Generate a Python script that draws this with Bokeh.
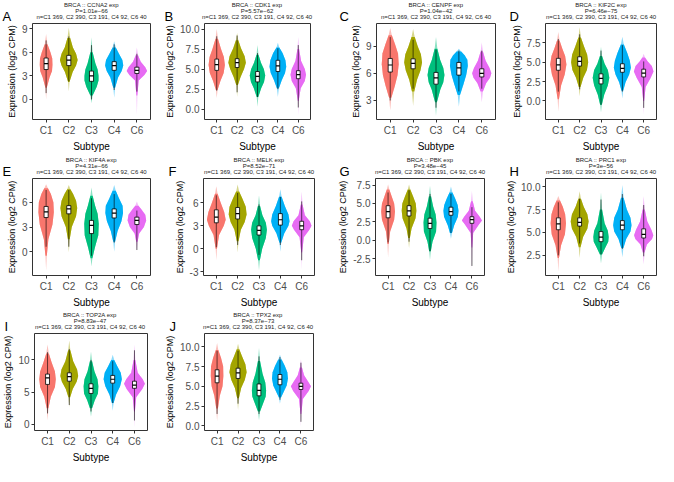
from bokeh.plotting import figure
from bokeh.layouts import row, column
from bokeh.models import Label, FixedTicker
from bokeh.embed import file_html
from bokeh.resources import INLINE

subtypes = ["C1", "C2", "C3", "C4", "C6"]
colors = ["#F8766D", "#A3A500", "#00BF7D", "#00B0F6", "#E76BF3"]
genes = ["CCNA2", "CDK1", "CENPF", "KIF2C", "KIF4A", "MELK", "PBK", "PRC1", "TOP2A", "TPX2"]
letters = ["A", "B", "C", "D", "E", "F", "G", "H", "I", "J"]
pvals = ["1.01e−66", "5.57e−62", "1.04e−42", "6.46e−75", "4.31e−66",
         "8.52e−71", "3.48e−45", "3e−56", "8.83e−47", "8.37e−73"]
n_text = "n=C1 369, C2 390, C3 191, C4 92, C6 40"

# ---- per panel data: violin knots (y, half width), box (q1, median, q3), whisker line ----
CCNA2_vy = [[0.0, 1.5, 2.8, 3.6, 4.4, 5.2, 6.0, 7.0, 8.3],
            [1.0, 2.2, 3.5, 4.3, 5.0, 5.8, 6.6, 7.8, 9.1],
            [-0.5, 0.5, 1.6, 2.4, 3.0, 3.8, 4.6, 6.0, 7.9],
            [0.2, 1.5, 2.8, 3.6, 4.3, 5.0, 5.8, 6.6, 7.4],
            [-2.0, 0.5, 2.4, 3.1, 3.6, 4.1, 4.8, 5.6, 6.6]]
CCNA2_vw = [[0, .03, .15, .26, .28, .27, .19, .06, 0],
            [0, .03, .17, .32, .39, .32, .18, .06, 0],
            [0, .05, .23, .31, .31, .27, .17, .05, 0],
            [0, .04, .17, .33, .40, .36, .21, .07, 0],
            [0, .02, .08, .33, .45, .37, .17, .05, 0]]
CCNA2_box = [[3.8, 4.55, 5.26], [4.3, 5.0, 5.6], [2.3, 3.0, 3.6], [3.7, 4.3, 4.8], [3.3, 3.7, 4.1]]
CCNA2_line = [[0.8, 7.5], [2.3, 8.0], [0.0, 6.9], [1.2, 7.0], [1.0, 5.8]]

CDK1_vy = [[1.4, 2.4, 3.5, 4.5, 5.5, 6.5, 7.5, 8.8, 10.0],
           [1.5, 3.0, 4.0, 5.0, 5.8, 6.6, 7.6, 8.6, 9.5],
           [0.3, 1.5, 2.6, 3.4, 4.2, 5.0, 5.8, 6.8, 8.0],
           [1.5, 2.6, 3.6, 4.5, 5.3, 6.1, 7.0, 7.7, 8.3],
           [-0.8, 1.0, 2.6, 3.5, 4.3, 5.0, 6.0, 7.5, 9.0]]
CDK1_vw = [[0, .04, .18, .34, .40, .35, .21, .06, 0],
           [0, .04, .17, .34, .43, .37, .19, .06, 0],
           [0, .04, .18, .32, .38, .31, .17, .05, 0],
           [0, .05, .19, .35, .41, .37, .23, .07, 0],
           [0, .02, .12, .32, .38, .32, .14, .04, 0]]
CDK1_box = [[4.84, 5.56, 6.25], [5.2, 5.8, 6.3], [3.4, 4.1, 4.7], [4.7, 5.4, 6.1], [3.8, 4.3, 4.8]]
CDK1_line = [[2.3, 9.1], [2.1, 9.2], [1.5, 7.0], [2.5, 7.6], [0.2, 8.0]]

CENPF_vy = [[1.9, 3.3, 4.6, 5.8, 7.0, 8.2, 9.2, 10.2, 11.0],
            [2.4, 4.0, 5.3, 6.3, 7.2, 8.1, 9.0, 10.0, 10.9],
            [1.3, 2.8, 4.2, 5.0, 5.8, 6.6, 7.5, 8.7, 10.0],
            [2.3, 3.6, 4.8, 5.8, 6.8, 7.5, 8.0, 8.4, 8.7],
            [2.8, 4.0, 4.9, 5.5, 6.0, 6.6, 7.4, 8.4, 9.4]]
CENPF_vw = [[0, .05, .20, .32, .37, .34, .21, .07, 0],
            [0, .05, .17, .32, .39, .34, .20, .07, 0],
            [0, .04, .19, .32, .37, .32, .18, .06, 0],
            [0, .05, .20, .32, .39, .37, .25, .10, 0],
            [0, .05, .19, .36, .42, .34, .17, .05, 0]]
CENPF_box = [[6.14, 6.92, 7.64], [6.5, 7.1, 7.6], [4.8, 5.5, 6.1], [5.8, 6.6, 7.2], [5.6, 6.0, 6.5]]
CENPF_line = [[3.0, 10.0], [4.3, 9.7], [2.2, 8.6], [4.0, 8.5], [4.3, 8.5]]

KIF2C_vy = [[-1.4, 0.2, 2.0, 3.4, 4.7, 5.8, 6.8, 7.8, 8.9],
            [0.6, 1.8, 3.0, 4.0, 5.0, 6.0, 7.0, 8.2, 9.5],
            [-1.5, -0.5, 0.8, 2.0, 3.0, 4.0, 4.8, 5.8, 7.0],
            [0.3, 1.3, 2.4, 3.4, 4.3, 5.2, 6.2, 7.3, 8.3],
            [-1.8, 0.0, 1.8, 3.0, 3.8, 4.5, 5.1, 5.6, 6.1]]
KIF2C_vw = [[0, .03, .13, .30, .38, .32, .18, .06, 0],
            [0, .04, .17, .34, .40, .35, .21, .06, 0],
            [0, .04, .15, .32, .39, .32, .17, .05, 0],
            [0, .04, .15, .32, .40, .35, .23, .07, 0],
            [0, .02, .09, .33, .46, .38, .19, .06, 0]]
KIF2C_box = [[3.96, 4.66, 5.5], [4.5, 5.1, 5.7], [2.2, 2.9, 3.5], [3.7, 4.2, 4.8], [3.1, 3.6, 4.1]]
KIF2C_line = [[1.2, 8.0], [1.5, 8.6], [-0.5, 6.5], [1.2, 7.2], [-0.9, 5.1]]

KIF4A_vy = [[-2.3, -0.5, 1.5, 3.3, 4.8, 6.0, 7.0, 7.7, 8.2],
            [-0.1, 1.5, 3.0, 4.3, 5.3, 6.2, 7.0, 7.6, 8.1],
            [-1.8, -0.8, 0.5, 2.0, 3.4, 4.6, 5.6, 6.8, 7.8],
            [0.0, 1.2, 2.5, 3.7, 4.7, 5.6, 6.5, 7.4, 8.1],
            [0.1, 1.2, 2.2, 3.0, 3.8, 4.5, 5.1, 5.6, 6.1]]
KIF4A_vw = [[0, .03, .10, .28, .34, .32, .21, .08, 0],
            [0, .04, .13, .32, .37, .32, .19, .07, 0],
            [0, .04, .15, .30, .32, .27, .16, .05, 0],
            [0, .04, .15, .32, .39, .37, .21, .07, 0],
            [0, .03, .10, .31, .41, .37, .21, .07, 0]]
KIF4A_box = [[4.15, 4.84, 5.5], [4.6, 5.2, 5.6], [2.2, 3.2, 3.8], [4.1, 4.7, 5.2], [3.3, 3.8, 4.2]]
KIF4A_line = [[0.6, 7.5], [0.6, 7.5], [-0.5, 6.5], [1.1, 7.0], [0.2, 5.0]]

MELK_vy = [[-1.5, 0.0, 1.8, 3.0, 3.8, 4.8, 6.0, 7.2, 8.2],
           [-0.5, 1.0, 2.5, 3.5, 4.5, 5.5, 6.5, 7.5, 8.4],
           [-2.8, -1.5, 0.0, 1.4, 2.5, 3.4, 4.4, 5.6, 7.0],
           [-0.4, 0.8, 2.0, 3.0, 3.6, 4.5, 5.6, 6.8, 7.8],
           [-2.7, -0.5, 1.5, 2.5, 3.0, 3.6, 4.4, 5.8, 7.5]]
MELK_vw = [[0, .03, .13, .35, .44, .37, .21, .06, 0],
           [0, .04, .15, .33, .42, .38, .23, .07, 0],
           [0, .04, .15, .32, .37, .32, .16, .05, 0],
           [0, .04, .18, .38, .43, .38, .21, .06, 0],
           [0, .02, .10, .36, .46, .38, .15, .04, 0]]
MELK_box = [[3.4, 4.15, 5.1], [3.9, 4.6, 5.4], [1.8, 2.4, 3.0], [3.1, 3.8, 4.6], [2.5, 3.0, 3.6]]
MELK_line = [[0.2, 7.0], [0.5, 7.3], [-0.8, 5.8], [0.5, 6.8], [-1.5, 6.2]]

PBK_vy = [[-2.4, -0.5, 1.2, 2.8, 3.9, 5.0, 6.0, 6.9, 7.6],
          [-1.1, 0.3, 1.6, 3.0, 4.0, 5.0, 6.0, 6.9, 7.6],
          [-2.7, -1.5, -0.2, 1.2, 2.4, 3.5, 4.6, 6.0, 7.4],
          [0.2, 1.0, 2.0, 3.2, 4.0, 4.8, 5.6, 6.5, 7.3],
          [-3.9, -1.0, 1.0, 2.2, 2.7, 3.2, 4.0, 5.3, 6.7]]
PBK_vw = [[0, .03, .10, .29, .33, .29, .17, .06, 0],
          [0, .04, .12, .31, .35, .32, .19, .06, 0],
          [0, .04, .12, .29, .31, .27, .15, .05, 0],
          [0, .05, .15, .33, .36, .32, .21, .07, 0],
          [0, .02, .06, .35, .48, .37, .15, .04, 0]]
PBK_box = [[3.05, 3.9, 4.7], [3.3, 4.0, 4.7], [1.6, 2.3, 3.0], [3.4, 3.9, 4.5], [2.3, 2.8, 3.2]]
PBK_line = [[-0.3, 6.5], [-0.2, 6.8], [-1.5, 6.3], [1.0, 6.3], [-3.5, 4.5]]

PRC1_vy = [[0.7, 2.2, 3.6, 4.8, 6.0, 7.0, 7.8, 8.5, 9.0],
           [2.2, 3.4, 4.5, 5.4, 6.2, 7.0, 7.8, 8.7, 9.5],
           [1.6, 2.6, 3.4, 4.0, 4.5, 5.2, 6.0, 7.5, 9.4],
           [2.3, 3.3, 4.3, 5.1, 5.8, 6.6, 7.5, 8.8, 10.2],
           [1.5, 2.8, 3.7, 4.3, 4.7, 5.3, 6.2, 7.5, 9.0]]
PRC1_vw = [[0, .03, .13, .31, .36, .32, .21, .08, 0],
           [0, .04, .16, .36, .42, .36, .19, .06, 0],
           [0, .05, .21, .34, .36, .32, .17, .05, 0],
           [0, .05, .18, .38, .43, .38, .21, .06, 0],
           [0, .04, .15, .39, .45, .36, .17, .05, 0]]
PRC1_box = [[5.3, 5.95, 6.6], [5.7, 6.1, 6.6], [4.0, 4.5, 5.1], [5.3, 5.8, 6.3], [4.4, 4.8, 5.4]]
PRC1_line = [[2.5, 8.3], [3.8, 8.7], [2.6, 8.6], [3.2, 9.2], [2.4, 8.0]]

TOP2A_vy = [[0.6, 2.5, 4.3, 5.8, 7.0, 8.2, 9.6, 11.0, 12.4],
            [2.7, 4.2, 5.5, 6.6, 7.5, 8.5, 9.8, 11.5, 13.0],
            [1.2, 2.5, 3.7, 4.8, 5.9, 7.0, 8.2, 9.8, 11.3],
            [2.1, 3.3, 4.6, 5.9, 7.0, 8.0, 9.0, 10.0, 10.8],
            [-0.5, 2.0, 4.2, 5.5, 6.3, 7.0, 8.0, 10.0, 12.4]]
TOP2A_vw = [[0, .04, .15, .34, .38, .34, .19, .06, 0],
            [0, .04, .16, .34, .41, .36, .18, .05, 0],
            [0, .05, .17, .32, .34, .30, .16, .05, 0],
            [0, .04, .15, .34, .42, .37, .21, .07, 0],
            [0, .02, .08, .36, .48, .38, .15, .04, 0]]
TOP2A_box = [[6.2, 7.2, 7.8], [6.7, 7.4, 8.0], [4.8, 5.6, 6.3], [6.4, 7.0, 7.6], [5.6, 6.1, 6.7]]
TOP2A_line = [[1.7, 11.2], [3.0, 11.7], [2.0, 10.0], [3.3, 9.8], [0.6, 11.5]]

TPX2_vy = [[0.6, 2.2, 3.8, 5.0, 6.3, 7.5, 8.6, 9.6, 10.5],
           [2.0, 3.5, 4.8, 5.8, 6.8, 7.8, 8.8, 9.7, 10.4],
           [0.7, 1.8, 2.8, 3.7, 4.5, 5.5, 6.6, 8.2, 9.9],
           [2.8, 3.6, 4.3, 5.1, 6.0, 6.8, 7.6, 8.4, 9.0],
           [-0.1, 1.5, 3.4, 4.4, 5.0, 5.6, 6.4, 7.4, 8.4]]
TPX2_vw = [[0, .04, .13, .26, .30, .29, .19, .06, 0],
           [0, .04, .15, .32, .41, .35, .19, .06, 0],
           [0, .05, .19, .32, .34, .30, .17, .05, 0],
           [0, .05, .18, .32, .38, .35, .23, .08, 0],
           [0, .02, .09, .37, .48, .34, .15, .05, 0]]
TPX2_box = [[5.45, 6.3, 7.1], [6.0, 6.7, 7.3], [3.8, 4.5, 5.3], [5.2, 5.9, 6.5], [4.6, 5.0, 5.4]]
TPX2_line = [[1.5, 9.5], [2.8, 9.5], [1.5, 8.8], [3.3, 8.7], [0.5, 8.0]]

# y axis ticks and labels per panel
yticks = [[0, 3, 6, 9], [0, 2.5, 5, 7.5, 10], [3, 6, 9], [0, 2.5, 5, 7.5], [0, 3, 6],
          [-3, 0, 3, 6], [-2.5, 0, 2.5, 5, 7.5], [2.5, 5, 7.5, 10], [0, 5, 10], [0, 2.5, 5, 7.5, 10]]
ytick_labels = [["0", "3", "6", "9"], ["0.0", "2.5", "5.0", "7.5", "10.0"], ["3", "6", "9"],
                ["0.0", "2.5", "5.0", "7.5"], ["0", "3", "6"], ["-3", "0", "3", "6"],
                ["-2.5", "0.0", "2.5", "5.0", "7.5"], ["2.5", "5.0", "7.5", "10.0"],
                ["0", "5", "10"], ["0.0", "2.5", "5.0", "7.5", "10.0"]]

data = {
    "CCNA2": (CCNA2_vy, CCNA2_vw, CCNA2_box, CCNA2_line),
    "CDK1": (CDK1_vy, CDK1_vw, CDK1_box, CDK1_line),
    "CENPF": (CENPF_vy, CENPF_vw, CENPF_box, CENPF_line),
    "KIF2C": (KIF2C_vy, KIF2C_vw, KIF2C_box, KIF2C_line),
    "KIF4A": (KIF4A_vy, KIF4A_vw, KIF4A_box, KIF4A_line),
    "MELK": (MELK_vy, MELK_vw, MELK_box, MELK_line),
    "PBK": (PBK_vy, PBK_vw, PBK_box, PBK_line),
    "PRC1": (PRC1_vy, PRC1_vw, PRC1_box, PRC1_line),
    "TOP2A": (TOP2A_vy, TOP2A_vw, TOP2A_box, TOP2A_line),
    "TPX2": (TPX2_vy, TPX2_vw, TPX2_box, TPX2_line),
}

# layout settings (px): fig width, left border, right border, letter x, y range
layout = [
    (162, 32, 12, 2, (-2.55, 9.65)),
    (162, 41, 14, 2, (-1.3, 10.7)),
    (174, 52, 3, 15, (0.9, 11.5)),
    (160, 47, 2, 11, (-2.4, 10.0)),
    (162, 32, 12, 2, (-2.9, 8.9)),
    (162, 41, 10, 6, (-3.5, 9.2)),
    (174, 51, 14, 15, (-4.8, 8.4)),
    (160, 47, 2, 11, (0.3, 10.9)),
    (162, 32, 15, 4, (-0.95, 14.1)),
    (162, 40, 11, 7, (-0.6, 11.7)),
]
row_frame_h = [96, 99, 100]
FONT = "Liberation Sans"
HEAD = 22
BODY = 133
X0, X1 = 0.4, 5.6


def make_header(ks):
    total = sum(layout[k][0] for k in ks)
    h = figure(width=total, height=HEAD, x_range=(0, total), y_range=(0, HEAD),
               output_backend="svg", toolbar_location=None, title=None,
               x_axis_type=None, y_axis_type=None, min_border=0)
    h.outline_line_color = None
    h.grid.visible = False
    h.border_fill_color = "white"
    h.background_fill_color = "white"
    cx = 0
    for k in ks:
        fw, left, right, lx, ylim = layout[k]
        frame_w = fw - left - right
        title_lines = ["BRCA :: %s exp" % genes[k], "P=%s" % pvals[k], n_text]
        for txt, yy in zip(title_lines, [17.4, 11.4, 5.3]):
            h.add_layout(Label(x=cx + left + frame_w / 2, y=yy, text=txt,
                               text_align="center", text_baseline="middle",
                               text_font=FONT, text_font_size="6px", text_color="#222222"))
        h.add_layout(Label(x=cx + lx, y=6.5, text=letters[k], text_align="left",
                           text_baseline="alphabetic", text_font=FONT,
                           text_font_size="13px", text_color="black"))
        cx += fw
    return h


def make_panel(k):
    gene = genes[k]
    vy, vw, box, wl = data[gene]
    fw, left, right, lx, ylim = layout[k]
    fh = row_frame_h[k // 4]
    p = figure(width=fw, height=BODY, x_range=(X0, X1), y_range=ylim,
               output_backend="svg", toolbar_location=None, title=None,
               min_border_left=left, min_border_right=right,
               min_border_top=1, min_border_bottom=BODY - 1 - fh)
    p.xgrid.visible = False
    p.ygrid.visible = False
    p.outline_line_color = "#333333"
    p.outline_line_width = 1
    p.border_fill_color = "white"
    p.background_fill_color = "white"

    for i in range(len(subtypes)):
        x = i + 1
        ys, ws = vy[i], vw[i]
        xs_all = [x - w for w in ws] + [x + w for w in ws[::-1]]
        ys_all = ys + ys[::-1]
        p.patch(xs_all, ys_all, fill_color=colors[i], fill_alpha=0.45, line_color=None)
        bws, bys = ws[1:-1], ys[1:-1]
        p.patch([x - w for w in bws] + [x + w for w in bws[::-1]], bys + bys[::-1],
                fill_color=colors[i], fill_alpha=1.0, line_color=None)
        p.segment(x0=[x], y0=[wl[i][0]], x1=[x], y1=[wl[i][1]],
                  line_color="black", line_alpha=0.6, line_width=1)
        p.quad(left=[x - 0.09], right=[x + 0.09], bottom=[box[i][0]], top=[box[i][2]],
               fill_color="white", line_color="black", line_width=0.8)
        p.segment(x0=[x - 0.09], y0=[box[i][1]], x1=[x + 0.09], y1=[box[i][1]],
                  line_color="black", line_width=1.2)

    p.xaxis.ticker = FixedTicker(ticks=[1, 2, 3, 4, 5])
    p.xaxis.major_label_overrides = {i + 1: s for i, s in enumerate(subtypes)}
    p.yaxis.ticker = FixedTicker(ticks=yticks[k])
    p.yaxis.major_label_overrides = {t: s for t, s in zip(yticks[k], ytick_labels[k])}
    p.xaxis.axis_label = "Subtype"
    p.yaxis.axis_label = "Expression (log2 CPM)"
    for ax in (p.xaxis[0], p.yaxis[0]):
        ax.axis_line_color = None
        ax.major_tick_line_color = "#333333"
        ax.major_tick_out = 3
        ax.major_tick_in = 0
        ax.minor_tick_line_color = None
        ax.major_label_text_font = FONT
        ax.major_label_text_font_size = "10px"
        ax.major_label_text_color = "#4d4d4d"
        ax.major_label_standoff = 2
        ax.axis_label_text_font = FONT
        ax.axis_label_text_font_style = "normal"
        ax.axis_label_text_color = "black"
        ax.axis_label_standoff = 2
    p.xaxis.axis_label_text_font_size = "10px"
    p.yaxis.axis_label_text_font_size = "9px"
    return p


rows_k = [[0, 1, 2, 3], [4, 5, 6, 7], [8, 9]]
parts = []
for ks in rows_k:
    parts.append(make_header(ks))
    parts.append(row(*[make_panel(k) for k in ks]))
lay = column(*parts)
open("out.html", "w").write(file_html(lay, INLINE))
